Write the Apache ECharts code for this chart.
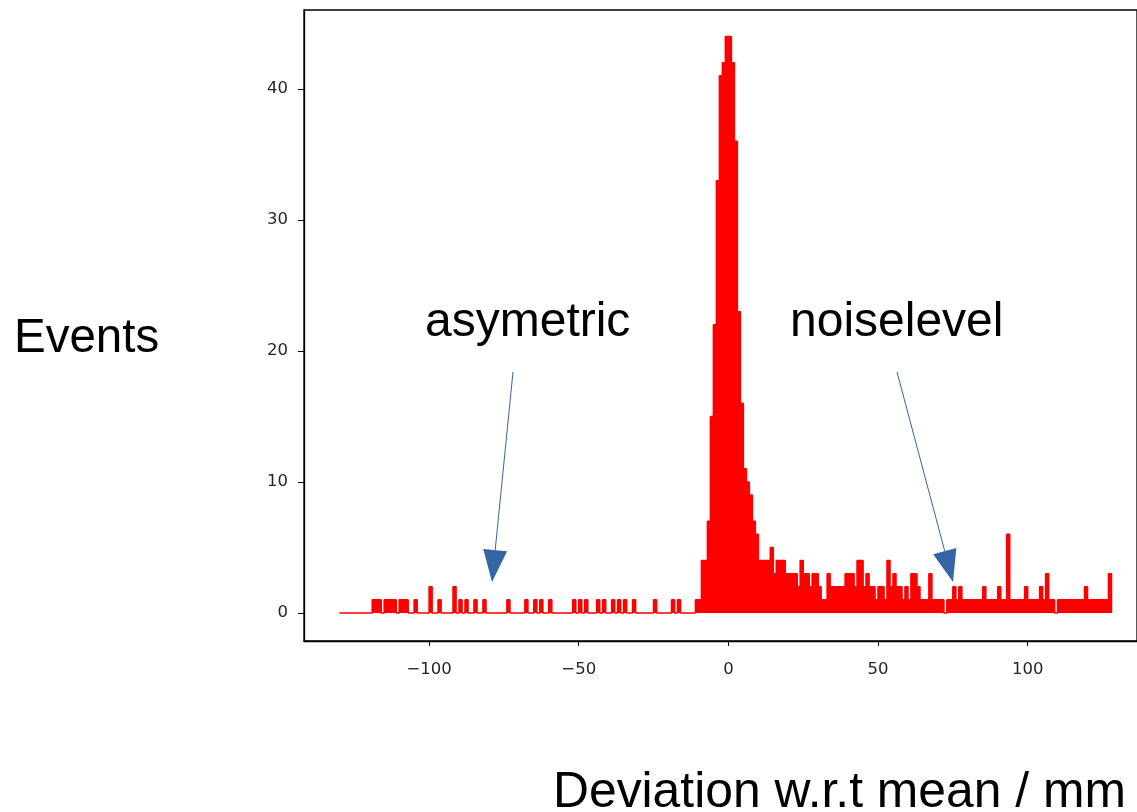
<!DOCTYPE html>
<html><head><meta charset="utf-8">
<script src="https://cdn.jsdelivr.net/npm/echarts@6/dist/echarts.min.js"></script>
<style>html,body{margin:0;padding:0;background:#fff}#c{width:1137px;height:812px}</style>
</head><body><div id="c"></div>
<script>
// Histogram: bins of width 1 mm, first bin starts at -130 mm
const binStart = -130;
const binWidth = 1;
const counts = [
  // -130 .. -121
  0,0,0,0,0,0,0,0,0,0,
  // -120 .. -111
  0,1,1,1,0,1,1,1,1,0,
  // -110 .. -101
  1,1,1,0,0,1,0,0,0,0,
  // -100 .. -91
  2,0,0,1,0,0,0,0,2,0,
  // -90 .. -81
  1,0,1,0,0,1,0,0,1,0,
  // -80 .. -71
  0,0,0,0,0,0,1,0,0,0,
  // -70 .. -61
  0,0,1,0,0,1,0,1,0,0,
  // -60 .. -51
  1,0,0,0,0,0,0,0,1,0,
  // -50 .. -41
  1,0,1,0,0,0,1,0,1,0,
  // -40 .. -31
  0,1,0,1,0,1,0,0,1,0,
  // -30 .. -21
  0,0,0,0,0,1,0,0,0,0,
  // -20 .. -11
  0,1,0,1,0,0,0,0,0,1,
  // -10 .. -1
  1,4,4,7,15,22,33,41,42,44,
  // 0 .. 9
  44,42,36,23,16,11,10,9,7,6,
  // 10 .. 19
  4,4,4,4,5,3,4,4,4,3,
  // 20 .. 29
  3,3,3,2,4,3,3,2,3,3,
  // 30 .. 39
  2,1,1,3,2,2,2,2,2,3,
  // 40 .. 49
  3,3,2,4,4,2,3,2,2,1,
  // 50 .. 59
  2,2,1,4,2,3,2,2,1,2,
  // 60 .. 69
  1,3,3,2,1,1,1,3,1,1,
  // 70 .. 79
  1,1,0,1,1,2,1,2,1,1,
  // 80 .. 89
  1,1,1,1,1,2,1,1,1,1,
  // 90 .. 99
  2,1,1,6,1,1,1,1,1,2,
  // 100 .. 109
  1,1,1,1,2,1,3,1,1,0,
  // 110 .. 119
  1,1,1,1,1,1,1,1,1,2,
  // 120 .. 127
  1,1,1,1,1,1,1,3
];
const xTicks = [-100, -50, 0, 50, 100];
const yTicks = [0, 10, 20, 30, 40];
const xTitle = 'Deviation w.r.t mean / mm';
const yTitle = 'Events';
const noteLabels = ['asymetric', 'noiselevel'];

// build step points (left bin edges) plus closing edge
const points = counts.map((c, i) => [binStart + i * binWidth, c]);
points.push([binStart + counts.length * binWidth, 0]);

const chart = echarts.init(document.getElementById('c'), null, {renderer: 'canvas'});
const minus = v => String(v).replace('-', '\u2212');
const blue = '#3465a4';

function arrow(x0, y0, x1, y1) {
  const dx = x1 - x0, dy = y1 - y0, L = Math.hypot(dx, dy);
  const ux = dx / L, uy = dy / L, hl = 32, hw = 12;
  const bx = x1 - ux * hl, by = y1 - uy * hl;
  return [
    {type: 'line', shape: {x1: x0, y1: y0, x2: bx, y2: by}, style: {stroke: blue, lineWidth: 1}},
    {type: 'polygon', shape: {points: [[x1, y1], [bx - uy * hw, by + ux * hw], [bx + uy * hw, by - ux * hw]]},
     style: {fill: blue, stroke: null}}
  ];
}

const font = s => s + 'px "Liberation Sans", Arial, sans-serif';
chart.setOption({
  animation: false,
  backgroundColor: '#fff',
  grid: {left: 304, top: 10, right: -2, bottom: 171, show: true, borderColor: '#000', borderWidth: 1.3, containLabel: false},
  xAxis: {
    type: 'value', min: -141.8, max: 136.53,
    axisLine: {show: true, onZero: false, lineStyle: {color: '#000', width: 1.3}},
    splitLine: {show: false},
    axisTick: {show: true, inside: false, length: 5, customValues: xTicks, lineStyle: {color: '#000', width: 1}},
    axisLabel: {show: true, customValues: xTicks, margin: 20, formatter: minus,
      fontFamily: '"DejaVu Sans", sans-serif', fontSize: 16.5, color: '#262626'}
  },
  yAxis: {
    type: 'value', min: -2.137, max: 46.03, position: 'left',
    axisLine: {show: true, onZero: false, lineStyle: {color: '#000', width: 1.3}},
    splitLine: {show: false},
    axisTick: {show: true, inside: false, length: 6, customValues: yTicks, lineStyle: {color: '#000', width: 1}},
    axisLabel: {show: true, customValues: yTicks, margin: 16, formatter: minus,
      fontFamily: '"DejaVu Sans", sans-serif', fontSize: 16.5, color: '#262626'}
  },
  series: [{
    type: 'line', data: points, step: 'end', symbol: 'none',
    lineStyle: {color: '#ff0000', width: 1.6},
    areaStyle: {color: '#ff0000', opacity: 1, origin: 0},
    z: 3
  }],
  graphic: [
    {type: 'text', style: {text: yTitle, x: 14, y: 339, font: font(47.5), fill: '#000', align: 'left', verticalAlign: 'middle'}},
    {type: 'text', style: {text: noteLabels[0], x: 425, y: 323, font: font(48), fill: '#000', align: 'left', verticalAlign: 'middle'}},
    {type: 'text', style: {text: noteLabels[1], x: 790, y: 323, font: font(48), fill: '#000', align: 'left', verticalAlign: 'middle'}},
    {type: 'text', style: {text: xTitle, x: 553, y: 793, font: font(49.8), fill: '#000', align: 'left', verticalAlign: 'middle'}},
    ...arrow(513, 372, 492, 582),
    ...arrow(897, 372, 953, 582)
  ]
});
</script></body></html>
